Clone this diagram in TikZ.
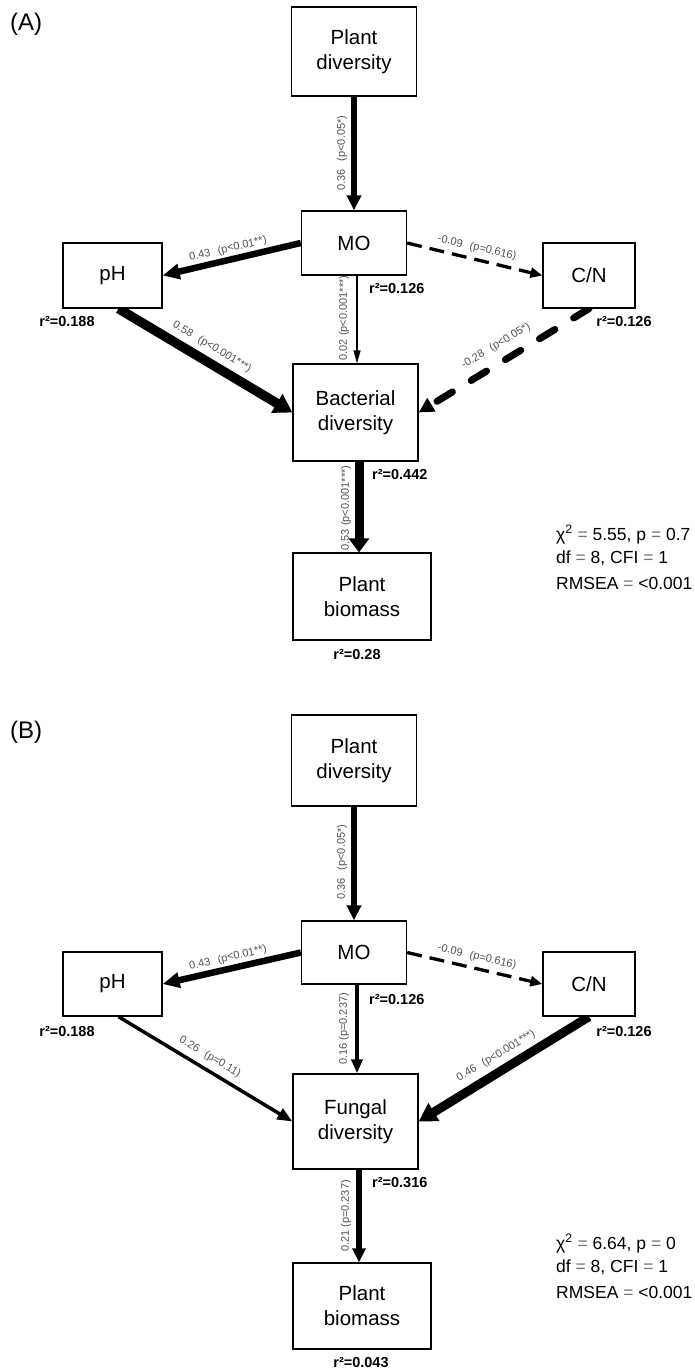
\documentclass[tikz,border=0pt]{standalone}
\usepackage{fontspec}
\setmainfont{Liberation Sans}
\usetikzlibrary{arrows.meta,backgrounds}
\begin{document}
\begin{tikzpicture}[x=1pt,y=-1pt,
  box/.style={draw, line width=1.3pt, fill=white, inner sep=0pt, align=center, font=\fontsize{20.5}{25}\selectfont},
  rsq/.style={font=\bfseries\fontsize{14.5}{17}\selectfont, inner sep=0pt},
  coef/.style={font=\fontsize{11}{12}\selectfont, text=black!68, inner sep=0pt},
  fitstat/.style={font=\fontsize{17.5}{21}\selectfont, anchor=base west, inner sep=0pt},
  panellab/.style={font=\fontsize{24}{28}\selectfont, anchor=west, inner sep=0pt},
  conn/.style n args={3}{line width=#1, -{Triangle[length=#2, width=#3]}},
  dashthin/.style={dash pattern=on 15pt off 8pt},
  dashthick/.style={line cap=round, dash pattern=on 18pt off 22pt}
]
\useasboundingbox (0,0) rectangle (694,1371);

% ---------------- Panel A ----------------
\node[panellab] (labA) at (10,24) {(A)};
\node[box, minimum width=125pt, minimum height=89pt] (PDa) at (354,51.5) {Plant\\diversity};
\node[box, minimum width=105pt, minimum height=64pt] (MOa) at (354,243) {MO};
\node[box, minimum width=99pt, minimum height=65pt] (pHa) at (112.5,275.5) {pH};
\node[box, minimum width=92pt, minimum height=65pt] (CNa) at (589,275.5) {C/N};
\node[box, minimum width=125pt, minimum height=97pt] (BDa) at (355.5,412.5) {Bacterial\\diversity};
\node[box, minimum width=138pt, minimum height=87pt] (PBa) at (362,596.5) {Plant\\biomass};

\begin{scope}[on background layer]
\draw[conn={6.5pt}{15pt}{14pt}] (PDa.south) -- (MOa.north);
\draw[conn={6.5pt}{17pt}{15pt}] (MOa.west) -- (pHa.east);
\draw[conn={3.3pt}{12pt}{10pt}, dashthin] (MOa.east) -- (CNa.west);
\draw[conn={1.3pt}{13pt}{7pt}] ([xshift=3pt]MOa.south) -- ([xshift=1.5pt]BDa.north);
\draw[conn={9.5pt}{18pt}{21pt}] ([xshift=6pt]pHa.south) -- (BDa.west);
\draw[conn={7pt}{15pt}{15pt}, dashthick] (CNa.south) -- (BDa.east);
\draw[conn={9pt}{14pt}{20pt}] ([xshift=3.5pt]BDa.south) -- ([xshift=-3pt]PBa.north);
\end{scope}

\node[coef, rotate=90] (cA1) at (342,153) {0.36\hspace{0.7em}(p<0.05*)};
\node[coef, rotate=13] (cA2) at (228,249) {0.43\hspace{0.7em}(p<0.01**)};
\node[coef, rotate=-13] (cA3) at (477,248) {-0.09\hspace{0.7em}(p=0.616)};
\node[coef, rotate=90] (cA4) at (344,318) {0.02 (p<0.001***)};
\node[coef, rotate=-31] (cA5) at (212,347) {0.58\hspace{0.7em}(p<0.001***)};
\node[coef, rotate=31] (cA6) at (496,346) {-0.28\hspace{0.7em}(p<0.05*)};
\node[coef, rotate=90] (cA7) at (346,508) {0.53 (p<0.001***)};

\node[rsq, anchor=west] (rA1) at (369,289) {r²=0.126};
\node[rsq] (rA2) at (67,322) {r²=0.188};
\node[rsq] (rA3) at (624,322) {r²=0.126};
\node[rsq, anchor=west] (rA4) at (372,475) {r²=0.442};
\node[rsq] (rA5) at (357,654) {r²=0.28};

\node[fitstat] (fA1) at (556,540) {χ\textsuperscript{2} \textcolor{black!55}{=} 5.55, p \textcolor{black!55}{=} 0.7};
\node[fitstat] (fA2) at (556,563) {df \textcolor{black!55}{=} 8, CFI \textcolor{black!55}{=} 1};
\node[fitstat] (fA3) at (556,589) {RMSEA \textcolor{black!55}{=} <0.001};

% ---------------- Panel B ----------------
\node[panellab] (labB) at (10,732) {(B)};
\node[box, minimum width=125pt, minimum height=91pt] (PDb) at (354,760.5) {Plant\\diversity};
\node[box, minimum width=105pt, minimum height=63pt] (MOb) at (354,952.5) {MO};
\node[box, minimum width=99pt, minimum height=64pt] (pHb) at (112.5,984) {pH};
\node[box, minimum width=92pt, minimum height=64pt] (CNb) at (589,984) {C/N};
\node[box, minimum width=125pt, minimum height=95pt] (FDb) at (355.5,1121.5) {Fungal\\diversity};
\node[box, minimum width=138pt, minimum height=86pt] (PBb) at (362,1306) {Plant\\biomass};

\begin{scope}[on background layer]
\draw[conn={6.5pt}{15pt}{14pt}] (PDb.south) -- (MOb.north);
\draw[conn={6.5pt}{17pt}{15pt}] (MOb.west) -- (pHb.east);
\draw[conn={3.3pt}{12pt}{10pt}, dashthin] (MOb.east) -- (CNb.west);
\draw[conn={4.5pt}{14pt}{11pt}] ([xshift=3pt]MOb.south) -- ([xshift=1.5pt]FDb.north);
\draw[conn={3.5pt}{15pt}{12pt}] ([xshift=6pt]pHb.south) -- (FDb.west);
\draw[conn={9pt}{18pt}{20pt}] (CNb.south) -- (FDb.east);
\draw[conn={5.5pt}{14pt}{13pt}] ([xshift=3.5pt]FDb.south) -- ([xshift=-3pt]PBb.north);
\end{scope}

\node[coef, rotate=90] (cB1) at (342,862) {0.36\hspace{0.7em}(p<0.05*)};
\node[coef, rotate=13] (cB2) at (228,958) {0.43\hspace{0.7em}(p<0.01**)};
\node[coef, rotate=-13] (cB3) at (477,957) {-0.09\hspace{0.7em}(p=0.616)};
\node[coef, rotate=90] (cB4) at (344,1029) {0.16 (p=0.237)};
\node[coef, rotate=-31] (cB5) at (210,1057) {0.26\hspace{0.7em}(p=0.11)};
\node[coef, rotate=31] (cB6) at (496,1056) {0.46\hspace{0.7em}(p<0.001***)};
\node[coef, rotate=90] (cB7) at (346,1216) {0.21 (p=0.237)};

\node[rsq, anchor=west] (rB1) at (369,999) {r²=0.126};
\node[rsq] (rB2) at (67,1031) {r²=0.188};
\node[rsq] (rB3) at (624,1031) {r²=0.126};
\node[rsq, anchor=west] (rB4) at (372,1183) {r²=0.316};
\node[rsq] (rB5) at (361,1363) {r²=0.043};

\node[fitstat] (fB1) at (556,1249) {χ\textsuperscript{2} \textcolor{black!55}{=} 6.64, p \textcolor{black!55}{=} 0};
\node[fitstat] (fB2) at (556,1272) {df \textcolor{black!55}{=} 8, CFI \textcolor{black!55}{=} 1};
\node[fitstat] (fB3) at (556,1298) {RMSEA \textcolor{black!55}{=} <0.001};
\end{tikzpicture}
\end{document}
